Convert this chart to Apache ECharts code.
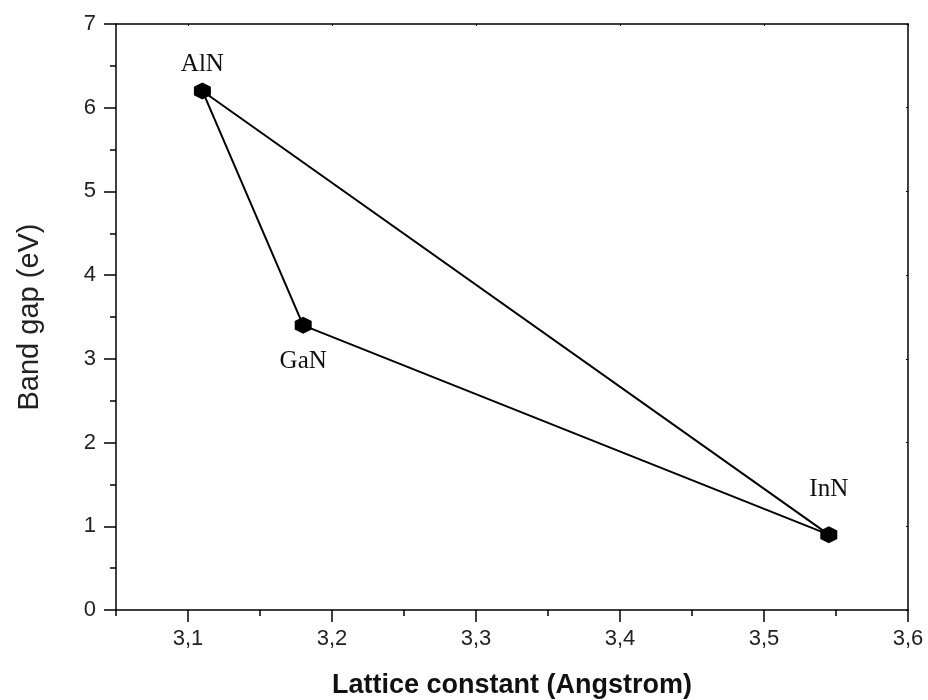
<!DOCTYPE html>
<html><head><meta charset="utf-8">
<script src="https://cdn.jsdelivr.net/npm/echarts@6/dist/echarts.min.js"></script>
<style>html,body{margin:0;padding:0;background:#fff}#c{width:928px;height:700px}</style>
</head><body><div id="c"></div>
<script>
const names = ['AlN', 'GaN', 'InN'];
const latticeConstant = [3.11, 3.18, 3.545];
const bandGap = [6.2, 3.4, 0.9];
const xTicks = [3.1, 3.2, 3.3, 3.4, 3.5, 3.6];
const yTicks = [0, 1, 2, 3, 4, 5, 6, 7];

// label placement (style only)
const labelPos = ['top', 'bottom', 'top'];
const labelDist = [6, 15, 24];

const pts = names.map((n, i) => ({
  value: [latticeConstant[i], bandGap[i]],
  name: n,
  label: { position: labelPos[i], distance: labelDist[i] }
}));
// closed triangle path: AlN -> GaN -> InN -> AlN
const order = [0, 1, 2, 0];
const path = order.map(i => [latticeConstant[i], bandGap[i]]);

const hex = 'path://M0,-10 L8.66,-5 L8.66,5 L0,10 L-8.66,5 L-8.66,-5 Z';
const sans = 'Liberation Sans, Arial, sans-serif';
const axisText = { color: '#222', fontFamily: sans, fontSize: 22 };
const lineBlack = { color: '#000', width: 1.5 };

const chart = echarts.init(document.getElementById('c'));
chart.setOption({
  animation: false,
  grid: { left: 116, right: 20, top: 24, bottom: 90, outerBoundsMode: 'none', containLabel: false },
  xAxis: [{
    type: 'value', min: 3.05, max: 3.6, interval: 0.05,
    axisLine: { lineStyle: lineBlack },
    axisTick: { show: true, length: 12, customValues: xTicks, lineStyle: lineBlack },
    splitLine: { show: false },
    axisLabel: Object.assign({}, axisText, {
      margin: 18, customValues: xTicks,
      formatter: v => (Math.round(v * 10) / 10).toFixed(1).replace('.', ',')
    }),
    name: 'Lattice constant (Angstrom)', nameLocation: 'middle', nameGap: 62,
    nameTextStyle: { fontFamily: sans, fontSize: 27, fontWeight: 'bold', color: '#111' }
  }, {
    type: 'value', position: 'bottom', min: 3.05, max: 3.6, interval: 0.05,
    axisLine: { show: false },
    axisTick: { show: true, length: 6, lineStyle: lineBlack },
    axisLabel: { show: false }, splitLine: { show: false }
  }, {
    type: 'value', position: 'top', min: 3.05, max: 3.6, interval: 0.05,
    axisLine: { show: true, lineStyle: lineBlack },
    axisTick: { show: true, inside: true, length: 2, customValues: xTicks, lineStyle: { color: '#000' } },
    axisLabel: { show: false }, splitLine: { show: false }
  }],
  yAxis: [{
    type: 'value', min: 0, max: 7, interval: 1,
    axisLine: { show: true, lineStyle: lineBlack },
    axisTick: { show: true, length: 12, lineStyle: lineBlack },
    minorTick: { show: true, splitNumber: 2, length: 6, lineStyle: lineBlack },
    splitLine: { show: false },
    axisLabel: Object.assign({}, axisText, { margin: 20, formatter: v => yTicks.includes(v) ? String(v) : '' }),
    name: 'Band gap (eV)', nameLocation: 'middle', nameGap: 72, nameRotate: 90,
    nameTextStyle: { fontFamily: sans, fontSize: 29, color: '#222' }
  }, {
    type: 'value', position: 'right', min: 0, max: 7, interval: 1,
    axisLine: { show: true, lineStyle: lineBlack },
    axisTick: { show: true, inside: true, length: 2, lineStyle: { color: '#000' } },
    axisLabel: { show: false }, splitLine: { show: false }
  }],
  series: [{
    type: 'line', data: path, symbol: 'none',
    lineStyle: { color: '#000', width: 2 }, z: 2
  }, {
    type: 'scatter', data: pts, symbol: hex, symbolSize: 17,
    itemStyle: { color: '#000', opacity: 1 }, z: 3,
    label: {
      show: true, formatter: p => p.name,
      fontFamily: 'Liberation Serif, Times New Roman, serif', fontSize: 25, color: '#111'
    }
  }]
});
</script></body></html>
